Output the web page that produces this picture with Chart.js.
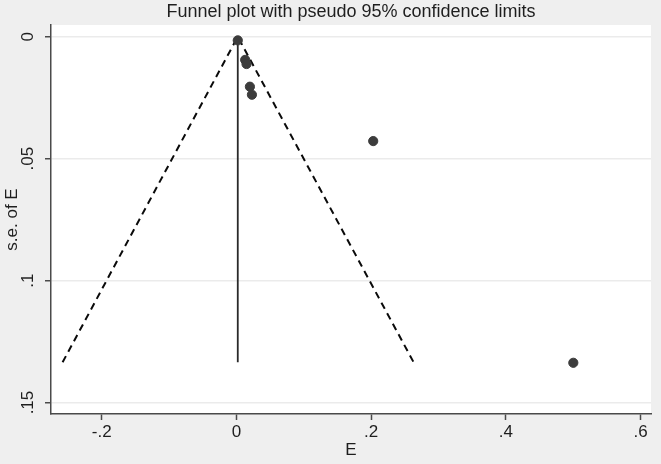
<!DOCTYPE html>
<html>
<head>
<meta charset="utf-8">
<title>Funnel plot</title>
<script src="https://cdn.jsdelivr.net/npm/chart.js@4/dist/chart.umd.min.js"></script>
<style>
  body { margin: 0; background: #efefef; }
  #grafico-funil { display: block; }
</style>
</head>
<body>
<canvas id="grafico-funil" width="661" height="464"></canvas>
<script>
// --- DADOS ---
const estudosE = [0.002, 0.013, 0.015, 0.020, 0.023, 0.203, 0.500];
const estudosSE = [0.0015, 0.0095, 0.0112, 0.0205, 0.0238, 0.0428, 0.1337];

// funil: limite inferior, vértice, limite superior
const funilX = [-0.258, 0.002, 0.263];
const funilY = [0.1335, 0, 0.1335];

// linha do efeito combinado
const linhaX = [0.002, 0.002];
const linhaY = [0, 0.1335];

const ticksX = [-0.2, 0, 0.2, 0.4, 0.6];
const rotulosX = ['-.2', '0', '.2', '.4', '.6'];
const ticksY = [0, 0.05, 0.1, 0.15];
const rotulosY = ['0', '.05', '.1', '.15'];

const limitesX = [-0.2752, 0.6153];
const limitesY = [-0.0048, 0.1547];

document.addEventListener('DOMContentLoaded', () => {

  const ctx = document.getElementById('grafico-funil');
  const corTexto = '#1e1e1e';
  const corEixo = '#4a4a4a';
  const fonte = 'Liberation Sans, Arial, sans-serif';

  // pinta a área do gráfico de branco (fundo do Stata)
  const fundoBranco = {
    id: 'fundoBranco',
    beforeDraw(chart) {
      const a = chart.chartArea;
      chart.ctx.save();
      chart.ctx.fillStyle = '#ffffff';
      chart.ctx.fillRect(a.left, a.top, a.right - a.left, a.bottom - a.top);
      chart.ctx.restore();
    }
  };

  const pares = (xs, ys) => xs.map((x, i) => ({ x: x, y: ys[i] }));

  new Chart(ctx, {
    type: 'scatter',
    data: {
      datasets: [
        {
          label: 'estudos',
          data: pares(estudosE, estudosSE),
          backgroundColor: '#3c3c3c',
          borderColor: '#3c3c3c',
          pointRadius: 4.6,
          order: 0
        },
        {
          label: 'efeito',
          data: pares(linhaX, linhaY),
          showLine: true,
          borderColor: '#2a2a2a',
          borderWidth: 1.8,
          pointRadius: 0,
          order: 1
        },
        {
          label: 'limites 95%',
          data: pares(funilX, funilY),
          showLine: true,
          borderColor: '#0a0a0a',
          borderWidth: 2,
          borderDash: [7, 5],
          pointRadius: 0,
          order: 2
        }
      ]
    },
    options: {
      responsive: false,
      animation: false,
      layout: { padding: { left: 0, right: 10, top: 0, bottom: 0 } },
      plugins: {
        legend: { display: false },
        tooltip: { enabled: false },
        title: {
          display: true,
          text: 'Funnel plot with pseudo 95% confidence limits',
          fullSize: false,
          color: corTexto,
          font: { family: fonte, size: 18, weight: 'normal' },
          padding: { top: 1.5, bottom: 1.9 }
        }
      },
      scales: {
        x: {
          type: 'linear',
          min: limitesX[0],
          max: limitesX[1],
          afterBuildTicks: (s) => { s.ticks = ticksX.map(v => ({ value: v })); },
          afterFit: (s) => { s.height = 50; },
          ticks: {
            color: corTexto,
            font: { family: fonte, size: 17 },
            padding: 2,
            maxRotation: 0,
            callback: (v) => rotulosX[ticksX.indexOf(v)] ?? ''
          },
          grid: { drawOnChartArea: false, tickLength: 6, tickColor: corEixo, tickWidth: 1.5 },
          border: { color: corEixo, width: 1.5 },
          title: {
            display: true,
            text: 'E',
            color: corTexto,
            font: { family: fonte, size: 17 },
            padding: { top: 0, bottom: 3.5 }
          }
        },
        y: {
          type: 'linear',
          reverse: true,
          min: limitesY[0],
          max: limitesY[1],
          afterBuildTicks: (s) => { s.ticks = ticksY.map(v => ({ value: v })); },
          afterFit: (s) => { s.width = 51; },
          ticks: {
            color: corTexto,
            font: { family: fonte, size: 17 },
            padding: 5,
            minRotation: 90,
            maxRotation: 90,
            crossAlign: 'center',
            callback: (v) => rotulosY[ticksY.indexOf(v)] ?? ''
          },
          grid: { color: '#ebebeb', lineWidth: 1.5, tickLength: 6, tickColor: corEixo, tickWidth: 1.5 },
          border: { color: corEixo, width: 1.5 },
          title: {
            display: true,
            text: 's.e. of E',
            color: corTexto,
            font: { family: fonte, size: 17 },
            padding: { top: 2.3, bottom: 0 }
          }
        }
      }
    },
    plugins: [fundoBranco]
  });

});
</script>
</body>
</html>
